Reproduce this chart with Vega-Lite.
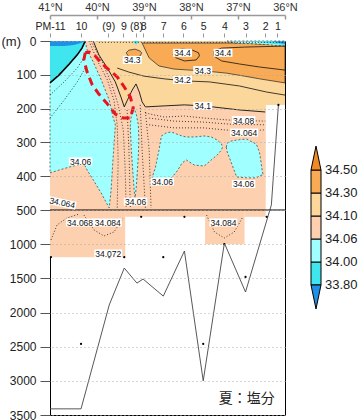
{
  "$schema": "https://vega.github.io/schema/vega-lite/v6.json",
  "padding": {"left": 0, "top": 0, "right": 0, "bottom": 0},
  "background": "white",
  "bounds": "flush",
  "spacing": 26,
  "config": {
    "font": "Liberation Sans",
    "view": {"stroke": "black", "strokeWidth": 1}
  },
  "datasets": {
    "box": [
      {"k": "pe", "lat": 41, "lat2": 36.41, "d": 500, "d2": 0},
      {"k": "pe", "lat": 36.41, "lat2": 36.0, "d": 189, "d2": 0},
      {"k": "pe", "lat": 41, "lat2": 39.40, "d": 1190, "d2": 500},
      {"k": "pe", "lat": 39.40, "lat2": 37.70, "d": 600, "d2": 500},
      {"k": "pe", "lat": 37.70, "lat2": 36.86, "d": 1000, "d2": 500},
      {"k": "pe", "lat": 36.86, "lat2": 36.41, "d": 600, "d2": 500}
    ],
    "reg": [
      {"r": "LO", "k": "lo", "lat": 40.08, "d": 0, "d2": 0},
      {"r": "LO", "k": "lo", "lat": 39.96, "d": 41, "d2": 0},
      {"r": "LO", "k": "lo", "lat": 39.78, "d": 80, "d2": 0},
      {"r": "LO", "k": "lo", "lat": 39.61, "d": 121, "d2": 0},
      {"r": "LO", "k": "lo", "lat": 39.49, "d": 166, "d2": 0},
      {"r": "LO", "k": "lo", "lat": 39.42, "d": 195, "d2": 0},
      {"r": "LO", "k": "lo", "lat": 39.36, "d": 177, "d2": 0},
      {"r": "LO", "k": "lo", "lat": 39.25, "d": 145, "d2": 0},
      {"r": "LO", "k": "lo", "lat": 39.17, "d": 127, "d2": 0},
      {"r": "LO", "k": "lo", "lat": 39.10, "d": 151, "d2": 0},
      {"r": "LO", "k": "lo", "lat": 39.04, "d": 180, "d2": 0},
      {"r": "LO", "k": "lo", "lat": 38.97, "d": 195, "d2": 0},
      {"r": "LO", "k": "lo", "lat": 38.57, "d": 192, "d2": 0},
      {"r": "LO", "k": "lo", "lat": 38.14, "d": 189, "d2": 0},
      {"r": "LO", "k": "lo", "lat": 37.72, "d": 192, "d2": 0},
      {"r": "LO", "k": "lo", "lat": 36.97, "d": 204, "d2": 0},
      {"r": "LO", "k": "lo", "lat": 36.42, "d": 210, "d2": 0},
      {"r": "LO", "k": "lo", "lat": 36.41, "d": 189, "d2": 0},
      {"r": "LO", "k": "lo", "lat": 36.0, "d": 189, "d2": 0},

      {"r": "OR", "k": "or", "lat": 39.04, "d": 6, "d2": 6},
      {"r": "OR", "k": "or", "lat": 38.97, "d": 27, "d2": 6},
      {"r": "OR", "k": "or", "lat": 38.89, "d": 50, "d2": 6},
      {"r": "OR", "k": "or", "lat": 38.68, "d": 74, "d2": 6},
      {"r": "OR", "k": "or", "lat": 38.36, "d": 83, "d2": 6},
      {"r": "OR", "k": "or", "lat": 38.04, "d": 86, "d2": 6},
      {"r": "OR", "k": "or", "lat": 37.67, "d": 89, "d2": 6},
      {"r": "OR", "k": "or", "lat": 37.25, "d": 95, "d2": 6},
      {"r": "OR", "k": "or", "lat": 36.86, "d": 104, "d2": 6},
      {"r": "OR", "k": "or", "lat": 36.54, "d": 112, "d2": 9},
      {"r": "OR", "k": "or", "lat": 36.0, "d": 124, "d2": 12},
      {"r": "OR2", "k": "or", "lat": 39.38, "d": 35, "d2": 35},
      {"r": "OR2", "k": "or", "lat": 39.32, "d": 47, "d2": 27},
      {"r": "OR2", "k": "or", "lat": 39.19, "d": 50, "d2": 24},
      {"r": "OR2", "k": "or", "lat": 39.08, "d": 44, "d2": 30},
      {"r": "OR2", "k": "or", "lat": 39.05, "d": 35, "d2": 35},

      {"r": "LC1", "k": "lc", "lat": 41.0, "d": 390, "d2": 124},
      {"r": "LC1", "k": "lc", "lat": 40.81, "d": 382, "d2": 101},
      {"r": "LC1", "k": "lc", "lat": 40.59, "d": 373, "d2": 68},
      {"r": "LC1", "k": "lc", "lat": 40.42, "d": 367, "d2": 41},
      {"r": "LC1", "k": "lc", "lat": 40.32, "d": 364, "d2": 21},
      {"r": "LC1", "k": "lc", "lat": 40.25, "d": 370, "d2": 0},
      {"r": "LC1", "k": "lc", "lat": 40.21, "d": 382, "d2": 27},
      {"r": "LC1", "k": "lc", "lat": 40.08, "d": 411, "d2": 62},
      {"r": "LC1", "k": "lc", "lat": 39.91, "d": 450, "d2": 115},
      {"r": "LC1", "k": "lc", "lat": 39.74, "d": 494, "d2": 175},
      {"r": "LC1", "k": "lc", "lat": 39.70, "d": 441, "d2": 198},
      {"r": "LC1", "k": "lc", "lat": 39.66, "d": 352, "d2": 225},
      {"r": "LC1", "k": "lc", "lat": 39.61, "d": 248, "d2": 248},

      {"r": "LC2", "k": "lc", "lat": 39.29, "d": 257, "d2": 249},
      {"r": "LC2", "k": "lc", "lat": 39.27, "d": 322, "d2": 219},
      {"r": "LC2", "k": "lc", "lat": 39.24, "d": 382, "d2": 195},
      {"r": "LC2", "k": "lc", "lat": 39.21, "d": 441, "d2": 201},
      {"r": "LC2", "k": "lc", "lat": 39.19, "d": 464, "d2": 207},
      {"r": "LC2", "k": "lc", "lat": 39.16, "d": 426, "d2": 219},
      {"r": "LC2", "k": "lc", "lat": 39.12, "d": 337, "d2": 249},
      {"r": "LC2", "k": "lc", "lat": 39.11, "d": 293, "d2": 293},

      {"r": "LC3", "k": "lc", "lat": 38.83, "d": 405, "d2": 405},
      {"r": "LC3", "k": "lc", "lat": 38.76, "d": 411, "d2": 376},
      {"r": "LC3", "k": "lc", "lat": 38.68, "d": 414, "d2": 322},
      {"r": "LC3", "k": "lc", "lat": 38.63, "d": 414, "d2": 281},
      {"r": "LC3", "k": "lc", "lat": 38.53, "d": 411, "d2": 272},
      {"r": "LC3", "k": "lc", "lat": 38.42, "d": 405, "d2": 269},
      {"r": "LC3", "k": "lc", "lat": 38.31, "d": 388, "d2": 275},
      {"r": "LC3", "k": "lc", "lat": 38.19, "d": 361, "d2": 281},
      {"r": "LC3", "k": "lc", "lat": 38.10, "d": 352, "d2": 284},
      {"r": "LC3", "k": "lc", "lat": 37.93, "d": 367, "d2": 284},
      {"r": "LC3", "k": "lc", "lat": 37.72, "d": 370, "d2": 281},
      {"r": "LC3", "k": "lc", "lat": 37.57, "d": 352, "d2": 284},
      {"r": "LC3", "k": "lc", "lat": 37.44, "d": 337, "d2": 293},
      {"r": "LC3", "k": "lc", "lat": 37.35, "d": 322, "d2": 305},
      {"r": "LC3", "k": "lc", "lat": 37.33, "d": 314, "d2": 314},

      {"r": "LC4", "k": "lc", "lat": 37.25, "d": 314, "d2": 314},
      {"r": "LC4", "k": "lc", "lat": 37.23, "d": 328, "d2": 302},
      {"r": "LC4", "k": "lc", "lat": 37.14, "d": 361, "d2": 296},
      {"r": "LC4", "k": "lc", "lat": 37.03, "d": 402, "d2": 293},
      {"r": "LC4", "k": "lc", "lat": 36.82, "d": 405, "d2": 290},
      {"r": "LC4", "k": "lc", "lat": 36.61, "d": 405, "d2": 305},
      {"r": "LC4", "k": "lc", "lat": 36.54, "d": 399, "d2": 331},
      {"r": "LC4", "k": "lc", "lat": 36.48, "d": 396, "d2": 388},
      {"r": "LC4", "k": "lc", "lat": 36.46, "d": 396, "d2": 396},

      {"r": "LCtr", "k": "lc", "lat": 37.23, "d": 0, "d2": 0},
      {"r": "LCtr", "k": "lc", "lat": 37.08, "d": 6, "d2": 0},
      {"r": "LCtr", "k": "lc", "lat": 36.54, "d": 9, "d2": 0},
      {"r": "LCtr", "k": "lc", "lat": 36.0, "d": 15, "d2": 0},

      {"r": "C1", "k": "c", "lat": 41.0, "d": 124, "d2": 0},
      {"r": "C1", "k": "c", "lat": 40.81, "d": 101, "d2": 0},
      {"r": "C1", "k": "c", "lat": 40.59, "d": 68, "d2": 0},
      {"r": "C1", "k": "c", "lat": 40.42, "d": 41, "d2": 0},
      {"r": "C1", "k": "c", "lat": 40.32, "d": 21, "d2": 0},
      {"r": "C1", "k": "c", "lat": 40.25, "d": 0, "d2": 0},
      {"r": "Ctr", "k": "c", "lat": 36.76, "d": 0, "d2": 0},
      {"r": "Ctr", "k": "c", "lat": 36.44, "d": 6, "d2": 0},
      {"r": "Ctr", "k": "c", "lat": 36.0, "d": 12, "d2": 0},
      {"r": "C8", "k": "c", "lat": 39.23, "d": 0, "d2": 0},
      {"r": "C8", "k": "c", "lat": 39.17, "d": 12, "d2": 0},
      {"r": "C8", "k": "c", "lat": 39.10, "d": 0, "d2": 0},

      {"r": "B1", "k": "b", "lat": 41.0, "d": 15, "d2": 0},
      {"r": "B1", "k": "b", "lat": 40.70, "d": 15, "d2": 0},
      {"r": "B1", "k": "b", "lat": 40.49, "d": 12, "d2": 0},
      {"r": "B1", "k": "b", "lat": 40.34, "d": 6, "d2": 0},
      {"r": "B1", "k": "b", "lat": 40.25, "d": 0, "d2": 0},
      {"r": "Btr", "k": "b", "lat": 36.29, "d": 0, "d2": 0},
      {"r": "Btr", "k": "b", "lat": 36.12, "d": 6, "d2": 0},
      {"r": "Btr", "k": "b", "lat": 36.0, "d": 9, "d2": 0}
    ],
    "lines": [
      {"id": "c342", "lev": 34.2, "o": 1, "lat": 39.57, "d": 80},
      {"id": "c342", "lev": 34.2, "o": 2, "lat": 39.32, "d": 92},
      {"id": "c342", "lev": 34.2, "o": 3, "lat": 39.00, "d": 104},
      {"id": "c342", "lev": 34.2, "o": 4, "lat": 38.57, "d": 112},
      {"id": "c342", "lev": 34.2, "o": 5, "lat": 38.14, "d": 118},
      {"id": "c342", "lev": 34.2, "o": 6, "lat": 37.61, "d": 121},
      {"id": "c342", "lev": 34.2, "o": 7, "lat": 36.97, "d": 133},
      {"id": "c342", "lev": 34.2, "o": 8, "lat": 36.39, "d": 151},
      {"id": "c342", "lev": 34.2, "o": 9, "lat": 36.0, "d": 160},
      {"id": "c344a", "lev": 34.4, "o": 1, "lat": 38.36, "d": 33},
      {"id": "c344a", "lev": 34.4, "o": 2, "lat": 38.29, "d": 27},
      {"id": "c344a", "lev": 34.4, "o": 3, "lat": 38.19, "d": 24},
      {"id": "c344a", "lev": 34.4, "o": 4, "lat": 37.97, "d": 27},
      {"id": "c344a", "lev": 34.4, "o": 5, "lat": 37.84, "d": 35},
      {"id": "c344a", "lev": 34.4, "o": 6, "lat": 37.82, "d": 44},
      {"id": "c344a", "lev": 34.4, "o": 7, "lat": 37.89, "d": 56},
      {"id": "c344a", "lev": 34.4, "o": 8, "lat": 38.14, "d": 59},
      {"id": "c344a", "lev": 34.4, "o": 9, "lat": 38.31, "d": 50},
      {"id": "c344a", "lev": 34.4, "o": 10, "lat": 38.38, "d": 41},
      {"id": "c344a", "lev": 34.4, "o": 11, "lat": 38.36, "d": 33},
      {"id": "c344b", "lev": 34.4, "o": 1, "lat": 36.0, "d": 15},
      {"id": "c344b", "lev": 34.4, "o": 2, "lat": 36.86, "d": 18},
      {"id": "c344b", "lev": 34.4, "o": 3, "lat": 37.35, "d": 21},
      {"id": "c344b", "lev": 34.4, "o": 4, "lat": 37.52, "d": 30},
      {"id": "c344b", "lev": 34.4, "o": 5, "lat": 37.52, "d": 44},
      {"id": "c344b", "lev": 34.4, "o": 6, "lat": 37.35, "d": 59},
      {"id": "c344b", "lev": 34.4, "o": 7, "lat": 36.97, "d": 68},
      {"id": "c344b", "lev": 34.4, "o": 8, "lat": 36.54, "d": 77},
      {"id": "c344b", "lev": 34.4, "o": 9, "lat": 36.0, "d": 86},
      {"id": "d1", "lev": 34.07, "o": 1, "lat": 40.17, "d": 0},
      {"id": "d1", "lev": 34.07, "o": 2, "lat": 40.00, "d": 56},
      {"id": "d1", "lev": 34.07, "o": 3, "lat": 39.78, "d": 115},
      {"id": "d1", "lev": 34.07, "o": 4, "lat": 39.64, "d": 175},
      {"id": "d1", "lev": 34.07, "o": 5, "lat": 39.57, "d": 248},
      {"id": "d1", "lev": 34.07, "o": 6, "lat": 39.55, "d": 352},
      {"id": "d1", "lev": 34.07, "o": 7, "lat": 39.57, "d": 494},
      {"id": "d2", "lev": 34.08, "o": 1, "lat": 40.13, "d": 0},
      {"id": "d2", "lev": 34.08, "o": 2, "lat": 39.89, "d": 62},
      {"id": "d2", "lev": 34.08, "o": 3, "lat": 39.68, "d": 130},
      {"id": "d2", "lev": 34.08, "o": 4, "lat": 39.55, "d": 189},
      {"id": "d2", "lev": 34.08, "o": 5, "lat": 39.44, "d": 263},
      {"id": "d2", "lev": 34.08, "o": 6, "lat": 39.40, "d": 382},
      {"id": "d2", "lev": 34.08, "o": 7, "lat": 39.38, "d": 494},
      {"id": "d3", "lev": 34.09, "o": 1, "lat": 39.36, "d": 204},
      {"id": "d3", "lev": 34.09, "o": 2, "lat": 39.32, "d": 322},
      {"id": "d3", "lev": 34.09, "o": 3, "lat": 39.29, "d": 494},
      {"id": "d4", "lev": 34.09, "o": 1, "lat": 39.08, "d": 189},
      {"id": "d4", "lev": 34.09, "o": 2, "lat": 39.04, "d": 322},
      {"id": "d4", "lev": 34.09, "o": 3, "lat": 38.97, "d": 494},
      {"id": "d5", "lev": 34.07, "o": 1, "lat": 38.97, "d": 210},
      {"id": "d5", "lev": 34.07, "o": 2, "lat": 38.89, "d": 322},
      {"id": "d5", "lev": 34.07, "o": 3, "lat": 38.85, "d": 494},
      {"id": "d6", "lev": 34.08, "o": 1, "lat": 38.97, "d": 213},
      {"id": "d6", "lev": 34.08, "o": 2, "lat": 38.57, "d": 225},
      {"id": "d6", "lev": 34.08, "o": 3, "lat": 38.14, "d": 222},
      {"id": "d6", "lev": 34.08, "o": 4, "lat": 37.72, "d": 228},
      {"id": "d6", "lev": 34.08, "o": 5, "lat": 37.18, "d": 234},
      {"id": "d6", "lev": 34.08, "o": 6, "lat": 36.42, "d": 237},
      {"id": "d7", "lev": 34.07, "o": 1, "lat": 38.89, "d": 228},
      {"id": "d7", "lev": 34.07, "o": 2, "lat": 38.36, "d": 237},
      {"id": "d7", "lev": 34.07, "o": 3, "lat": 37.72, "d": 240},
      {"id": "d7", "lev": 34.07, "o": 4, "lat": 37.18, "d": 246},
      {"id": "d7", "lev": 34.07, "o": 5, "lat": 36.42, "d": 248},
      {"id": "d8", "lev": 34.064, "o": 1, "lat": 38.89, "d": 248},
      {"id": "d8", "lev": 34.064, "o": 2, "lat": 38.36, "d": 257},
      {"id": "d8", "lev": 34.064, "o": 3, "lat": 37.72, "d": 257},
      {"id": "d8", "lev": 34.064, "o": 4, "lat": 37.29, "d": 263},
      {"id": "d8", "lev": 34.064, "o": 5, "lat": 36.86, "d": 266},
      {"id": "d8", "lev": 34.064, "o": 6, "lat": 36.42, "d": 263},
      {"id": "e1", "lev": 34.04, "o": 1, "lat": 41.0, "d": 228},
      {"id": "e1", "lev": 34.04, "o": 2, "lat": 40.70, "d": 175},
      {"id": "e1", "lev": 34.04, "o": 3, "lat": 40.42, "d": 121},
      {"id": "e1", "lev": 34.04, "o": 4, "lat": 40.25, "d": 80},
      {"id": "e2", "lev": 34.02, "o": 1, "lat": 41.0, "d": 160},
      {"id": "e2", "lev": 34.02, "o": 2, "lat": 40.70, "d": 121},
      {"id": "e2", "lev": 34.02, "o": 3, "lat": 40.42, "d": 80},
      {"id": "e2", "lev": 34.02, "o": 4, "lat": 40.28, "d": 50},
      {"id": "ds", "lev": 34.09, "o": 1, "lat": 39.96, "d": 4},
      {"id": "ds", "lev": 34.09, "o": 2, "lat": 36.0, "d": 4},
      {"id": "dl1", "lev": 34.068, "o": 1, "lat": 40.98, "d": 939},
      {"id": "dl1", "lev": 34.068, "o": 2, "lat": 40.85, "d": 719},
      {"id": "dl1", "lev": 34.068, "o": 3, "lat": 40.64, "d": 617},
      {"id": "dl1", "lev": 34.068, "o": 4, "lat": 40.38, "d": 559},
      {"id": "dl2", "lev": 34.084, "o": 1, "lat": 40.28, "d": 573},
      {"id": "dl2", "lev": 34.084, "o": 2, "lat": 40.06, "d": 793},
      {"id": "dl2", "lev": 34.084, "o": 3, "lat": 39.85, "d": 880},
      {"id": "dl2", "lev": 34.084, "o": 4, "lat": 39.64, "d": 822},
      {"id": "dl2", "lev": 34.084, "o": 5, "lat": 39.44, "d": 617},
      {"id": "dl3", "lev": 34.084, "o": 1, "lat": 37.67, "d": 573},
      {"id": "dl3", "lev": 34.084, "o": 2, "lat": 37.50, "d": 822},
      {"id": "dl3", "lev": 34.084, "o": 3, "lat": 37.29, "d": 910},
      {"id": "dl3", "lev": 34.084, "o": 4, "lat": 37.08, "d": 822},
      {"id": "dl3", "lev": 34.084, "o": 5, "lat": 36.91, "d": 617}
    ],
    "front": [
      {"o": 1, "lat": 40.25, "d": 35},
      {"o": 2, "lat": 40.28, "d": 56},
      {"o": 3, "lat": 40.21, "d": 92},
      {"o": 4, "lat": 40.10, "d": 130},
      {"o": 5, "lat": 39.96, "d": 157},
      {"o": 6, "lat": 39.78, "d": 186},
      {"o": 7, "lat": 39.61, "d": 216},
      {"o": 8, "lat": 39.44, "d": 228},
      {"o": 9, "lat": 39.29, "d": 228},
      {"o": 10, "lat": 39.23, "d": 198},
      {"o": 11, "lat": 39.29, "d": 166},
      {"o": 12, "lat": 39.42, "d": 136},
      {"o": 13, "lat": 39.57, "d": 106},
      {"o": 14, "lat": 39.74, "d": 86},
      {"o": 15, "lat": 39.91, "d": 65},
      {"o": 16, "lat": 40.04, "d": 44},
      {"o": 17, "lat": 40.17, "d": 33},
      {"o": 18, "lat": 40.25, "d": 35}
    ],
    "bottom": [
      {"lat": 41.0, "d": 3410},
      {"lat": 40.34, "d": 3410},
      {"lat": 39.74, "d": 1890},
      {"lat": 39.42, "d": 1350},
      {"lat": 39.15, "d": 1570},
      {"lat": 39.02, "d": 1510},
      {"lat": 38.59, "d": 1760},
      {"lat": 38.14, "d": 1100},
      {"lat": 37.74, "d": 3000},
      {"lat": 37.29, "d": 985},
      {"lat": 36.84, "d": 1700},
      {"lat": 36.29, "d": 485},
      {"lat": 36.14, "d": 189}
    ],
    "samples": [
      {"lat": 40.98, "d": 1190}, {"lat": 39.74, "d": 1190}, {"lat": 39.42, "d": 1190},
      {"lat": 38.59, "d": 1190}, {"lat": 39.06, "d": 600}, {"lat": 38.14, "d": 600},
      {"lat": 37.29, "d": 1000}, {"lat": 36.84, "d": 1480}, {"lat": 36.39, "d": 600},
      {"lat": 40.34, "d": 2460}, {"lat": 37.74, "d": 2460}, {"lat": 36.14, "d": 189}
    ],
    "labels": [
      {"t": "34.3", "lat": 39.25, "d": 56},
      {"t": "34.4", "lat": 38.18, "d": 35},
      {"t": "34.4", "lat": 37.32, "d": 35},
      {"t": "34.3", "lat": 37.75, "d": 86},
      {"t": "34.2", "lat": 38.18, "d": 115},
      {"t": "34.1", "lat": 37.75, "d": 192},
      {"t": "34.08", "lat": 36.88, "d": 234},
      {"t": "34.064", "lat": 36.87, "d": 271},
      {"t": "34.06", "lat": 40.35, "d": 356},
      {"t": "34.06", "lat": 38.61, "d": 416},
      {"t": "34.06", "lat": 36.88, "d": 423},
      {"t": "34.06", "lat": 39.18, "d": 475},
      {"t": "34.068", "lat": 40.36, "d": 683},
      {"t": "34.084", "lat": 39.77, "d": 683},
      {"t": "34.072", "lat": 39.76, "d": 1136},
      {"t": "34.084", "lat": 37.31, "d": 683}
    ]
  },
  "hconcat": [
    {
      "width": 235,
      "height": 374,
      "encoding": {
        "x": {"field": "lat", "type": "quantitative", "scale": {"domain": [36, 41], "reverse": true, "nice": false, "zero": false}, "axis": null},
        "y": {
          "field": "d", "type": "quantitative",
          "scale": {"domain": [0, 500, 3500], "range": [0, 169, 374], "nice": false, "zero": false},
          "axis": {
            "values": [0, 100, 200, 300, 400, 500, 1000, 1500, 2000, 2500, 3000, 3500],
            "format": "d",
            "title": "(m)", "titleAngle": 0, "titleX": -49, "titleY": 0, "titleAlign": "left", "titleBaseline": "middle",
            "titleFontSize": 13, "titleFontWeight": "normal", "titleColor": "#222", "titleFont": "Liberation Sans",
            "labelFontSize": 12, "labelColor": "#222", "labelPadding": 4, "labelFlush": false, "labelOverlap": false, "labelFont": "Liberation Sans",
            "tickSize": 10, "tickColor": "#555", "domain": false,
            "grid": true, "gridColor": "#aaa", "gridDash": [1, 3], "zindex": 1
          }
        }
      },
      "resolve": {"axis": {"x": "independent"}},
      "layer": [
        {
          "data": {"name": "box"},
          "mark": {"type": "rect"},
          "encoding": {
            "x": {"field": "lat", "type": "quantitative", "scale": {"domain": [36, 41], "reverse": true, "nice": false, "zero": false},
              "axis": {"orient": "top", "values": [41, 40, 39, 38, 37, 36], "labelExpr": "datum.value + '°N'", "offset": 26,
                "domainColor": "#999", "domainWidth": 1.5, "tickColor": "#999", "tickWidth": 1.5, "tickSize": -4, "labelPadding": 7,
                "labelFontSize": 11, "labelColor": "#333", "labelFlush": false, "labelOverlap": false, "grid": false, "title": null}},
            "x2": {"field": "lat2"},
            "y2": {"field": "d2"},
            "color": {"field": "k", "type": "nominal", "legend": null,
              "scale": {"domain": ["b", "c", "lc", "pe", "lo", "or", "do"], "range": ["#2090E6", "#3FE6EE", "#A0FFFF", "#FDD0B0", "#FCD79C", "#F8AA55", "#F08A24"]}}
          }
        },
        {
          "data": {"name": "reg"},
          "transform": [{"filter": "datum.k == 'lo'"}],
          "mark": {"type": "area"},
          "encoding": {
            "x": {"field": "lat", "type": "quantitative", "scale": {"domain": [36, 41], "reverse": true, "nice": false, "zero": false},
              "axis": {"orient": "top", "values": [41, 40.34, 39.76, 39.44, 39.17, 39.02, 38.59, 38.16, 37.74, 37.29, 36.84, 36.42, 36.16],
                "labelExpr": "datum.value==41?'PM-11':datum.value==40.34?'10':datum.value==39.76?'(9)':datum.value==39.44?'9':datum.value==39.17?'(8)':datum.value==39.02?'8':datum.value==38.59?'7':datum.value==38.16?'6':datum.value==37.74?'5':datum.value==37.29?'4':datum.value==36.84?'3':datum.value==36.42?'2':'1'",
                "offset": 4, "domain": false, "tickColor": "#999", "tickSize": 4, "labelPadding": 2, "labelFontSize": 10.5, "labelColor": "#222",
                "labelFlush": false, "labelOverlap": false, "labelBound": false, "grid": false, "title": null}},
            "y2": {"field": "d2"},
            "detail": {"field": "r"},
            "color": {"field": "k", "type": "nominal", "legend": null,
              "scale": {"domain": ["b", "c", "lc", "pe", "lo", "or", "do"], "range": ["#2090E6", "#3FE6EE", "#A0FFFF", "#FDD0B0", "#FCD79C", "#F8AA55", "#F08A24"]}}
          }
        },
        {
          "data": {"name": "reg"},
          "transform": [{"filter": "datum.k == 'or'"}],
          "mark": {"type": "area", "stroke": "#222", "strokeWidth": 0.7},
          "encoding": {
            "y2": {"field": "d2"},
            "detail": {"field": "r"},
            "color": {"field": "k", "type": "nominal", "legend": null,
              "scale": {"domain": ["b", "c", "lc", "pe", "lo", "or", "do"], "range": ["#2090E6", "#3FE6EE", "#A0FFFF", "#FDD0B0", "#FCD79C", "#F8AA55", "#F08A24"]}}
          }
        },
        {
          "data": {"name": "reg"},
          "transform": [{"filter": "datum.k == 'lc'"}],
          "mark": {"type": "area", "stroke": "#333", "strokeWidth": 0.7, "strokeDash": [2, 2]},
          "encoding": {
            "y2": {"field": "d2"},
            "detail": {"field": "r"},
            "color": {"field": "k", "type": "nominal", "legend": null,
              "scale": {"domain": ["b", "c", "lc", "pe", "lo", "or", "do"], "range": ["#2090E6", "#3FE6EE", "#A0FFFF", "#FDD0B0", "#FCD79C", "#F8AA55", "#F08A24"]}}
          }
        },
        {
          "data": {"name": "reg"},
          "transform": [{"filter": "datum.k == 'c'"}],
          "mark": {"type": "area"},
          "encoding": {
            "y2": {"field": "d2"},
            "detail": {"field": "r"},
            "color": {"field": "k", "type": "nominal", "legend": null,
              "scale": {"domain": ["b", "c", "lc", "pe", "lo", "or", "do"], "range": ["#2090E6", "#3FE6EE", "#A0FFFF", "#FDD0B0", "#FCD79C", "#F8AA55", "#F08A24"]}}
          }
        },
        {
          "data": {"name": "reg"},
          "transform": [{"filter": "datum.k == 'b'"}],
          "mark": {"type": "area"},
          "encoding": {
            "y2": {"field": "d2"},
            "detail": {"field": "r"},
            "color": {"field": "k", "type": "nominal", "legend": null,
              "scale": {"domain": ["b", "c", "lc", "pe", "lo", "or", "do"], "range": ["#2090E6", "#3FE6EE", "#A0FFFF", "#FDD0B0", "#FCD79C", "#F8AA55", "#F08A24"]}}
          }
        },
        {
          "data": {"name": "lines"},
          "transform": [{"filter": "datum.lev < 34.1"}],
          "mark": {"type": "line", "color": "#111", "strokeWidth": 0.8, "strokeDash": [1, 2]},
          "encoding": {"detail": {"field": "id"}, "order": {"field": "o"}}
        },
        {
          "data": {"name": "lines"},
          "transform": [{"filter": "datum.lev >= 34.1"}],
          "mark": {"type": "line", "color": "#111", "strokeWidth": 0.8},
          "encoding": {"detail": {"field": "id"}, "order": {"field": "o"}}
        },
        {
          "data": {"name": "reg"},
          "transform": [{"filter": "datum.r == 'LO' && datum.lat >= 36.415"}],
          "mark": {"type": "line", "color": "#111", "strokeWidth": 0.9},
          "encoding": {}
        },
        {
          "data": {"name": "reg"},
          "transform": [{"filter": "datum.r == 'C1'"}],
          "mark": {"type": "line", "color": "#000", "strokeWidth": 1.6},
          "encoding": {}
        },
        {
          "data": {"name": "front"},
          "mark": {"type": "line", "color": "#E8141E", "strokeWidth": 3, "strokeDash": [8, 5]},
          "encoding": {"order": {"field": "o"}}
        },
        {
          "data": {"name": "bottom"},
          "mark": {"type": "line", "color": "#444", "strokeWidth": 0.9},
          "encoding": {}
        },
        {
          "data": {"values": [{"lat": 41, "lat2": 36, "d": 500}]},
          "mark": {"type": "rule", "color": "black", "strokeWidth": 1.2},
          "encoding": {"x2": {"field": "lat2"}}
        },
        {
          "data": {"name": "samples"},
          "mark": {"type": "point", "filled": true, "color": "black", "size": 5, "opacity": 1},
          "encoding": {}
        },
        {
          "data": {"name": "labels"},
          "transform": [{"filter": "length(datum.t) == 4"}],
          "mark": {"type": "point", "shape": "M-1,-0.42H1V0.42H-1Z", "filled": true, "color": "white", "opacity": 1, "size": 361, "strokeWidth": 0},
          "encoding": {}
        },
        {
          "data": {"name": "labels"},
          "transform": [{"filter": "length(datum.t) == 5"}],
          "mark": {"type": "point", "shape": "M-1,-0.34H1V0.34H-1Z", "filled": true, "color": "white", "opacity": 1, "size": 552, "strokeWidth": 0},
          "encoding": {}
        },
        {
          "data": {"name": "labels"},
          "transform": [{"filter": "length(datum.t) == 6"}],
          "mark": {"type": "point", "shape": "M-1,-0.286H1V0.286H-1Z", "filled": true, "color": "white", "opacity": 1, "size": 784, "strokeWidth": 0},
          "encoding": {}
        },
        {
          "data": {"name": "labels"},
          "mark": {"type": "text", "fontSize": 8.5, "font": "Liberation Sans", "color": "#111", "baseline": "middle", "align": "center", "dy": 0.5},
          "encoding": {"text": {"field": "t"}}
        },
        {
          "data": {"values": [{"t": "34.064", "lat": 40.74, "d": 479}]},
          "mark": {"type": "point", "shape": "M-1,-0.286H1V0.286H-1Z", "filled": true, "color": "white", "opacity": 1, "size": 784, "strokeWidth": 0, "angle": 12},
          "encoding": {}
        },
        {
          "data": {"values": [{"t": "34.064", "lat": 40.74, "d": 479}]},
          "mark": {"type": "text", "fontSize": 8.5, "font": "Liberation Sans", "color": "#111", "baseline": "middle", "align": "center", "angle": 12},
          "encoding": {"text": {"field": "t"}}
        },
        {
          "data": {"values": [{"t": "夏：塩分", "lat": 36.22, "d": 3265}]},
          "mark": {"type": "text", "fontSize": 14, "font": "Noto Sans CJK JP", "color": "#222", "baseline": "middle", "align": "right"},
          "encoding": {"text": {"field": "t"}}
        }
      ]
    },
    {
      "width": 10,
      "height": 374,
      "view": {"stroke": null},
      "layer": [
        {
          "data": {"values": [
            {"lo": 0, "hi": 1, "k": "c"},
            {"lo": 1, "hi": 2, "k": "lc"},
            {"lo": 2, "hi": 3, "k": "pe"},
            {"lo": 3, "hi": 4, "k": "lo"},
            {"lo": 4, "hi": 5, "k": "or"}
          ]},
          "mark": {"type": "rect", "stroke": "black", "strokeWidth": 1},
          "encoding": {
            "x": {"datum": 0, "type": "quantitative", "scale": {"domain": [0, 1]}, "axis": null},
            "x2": {"datum": 1},
            "y": {"field": "lo", "type": "quantitative", "scale": {"domain": [-5.652, 10.609], "nice": false, "zero": false}, "axis": null},
            "y2": {"field": "hi"},
            "color": {"field": "k", "type": "nominal", "legend": null,
              "scale": {"domain": ["b", "c", "lc", "pe", "lo", "or", "do"], "range": ["#2090E6", "#3FE6EE", "#A0FFFF", "#FDD0B0", "#FCD79C", "#F8AA55", "#F08A24"]}}
          }
        },
        {
          "data": {"values": [{"k": "do", "lv": 5.52}, {"k": "b", "lv": -0.52}]},
          "mark": {"type": "point", "filled": true, "opacity": 1, "stroke": "black", "strokeWidth": 1, "size": 576},
          "encoding": {
            "x": {"datum": 0.5, "type": "quantitative", "scale": {"domain": [0, 1]}, "axis": null},
            "y": {"field": "lv", "type": "quantitative", "scale": {"domain": [-5.652, 10.609], "nice": false, "zero": false}, "axis": null},
            "shape": {"field": "k", "type": "nominal", "legend": null,
              "scale": {"domain": ["do", "b"], "range": ["M-0.417,1L0,-1L0.417,1Z", "M-0.417,-1L0,1L0.417,-1Z"]}},
            "color": {"field": "k", "type": "nominal", "legend": null,
              "scale": {"domain": ["b", "c", "lc", "pe", "lo", "or", "do"], "range": ["#2090E6", "#3FE6EE", "#A0FFFF", "#FDD0B0", "#FCD79C", "#F8AA55", "#F08A24"]}}
          }
        },
        {
          "data": {"values": [
            {"lv": 0, "t": "33.80"}, {"lv": 1, "t": "34.00"}, {"lv": 2, "t": "34.06"},
            {"lv": 3, "t": "34.10"}, {"lv": 4, "t": "34.30"}, {"lv": 5, "t": "34.50"}
          ]},
          "mark": {"type": "text", "align": "left", "baseline": "middle", "dx": 4, "fontSize": 13, "font": "Liberation Sans", "color": "#222"},
          "encoding": {
            "x": {"datum": 1, "type": "quantitative", "scale": {"domain": [0, 1]}, "axis": null},
            "y": {"field": "lv", "type": "quantitative", "scale": {"domain": [-5.652, 10.609], "nice": false, "zero": false}, "axis": null},
            "text": {"field": "t"}
          }
        }
      ]
    }
  ]
}
